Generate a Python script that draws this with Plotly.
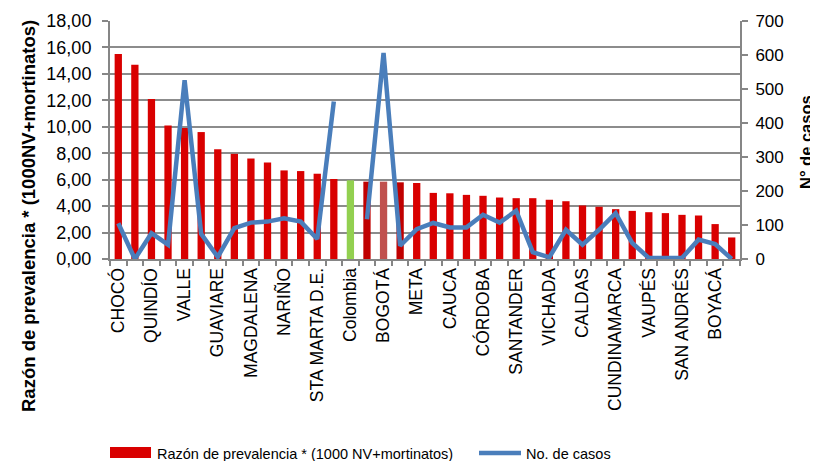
import plotly.graph_objects as go

categories = ["CHOCÓ", "AMAZONAS", "QUINDÍO", "RISARALDA", "VALLE", "CAQUETÁ",
              "GUAVIARE", "HUILA", "MAGDALENA", "TOLIMA", "NARIÑO", "SUCRE",
              "STA MARTA D.E.", "ANTIOQUIA", "Colombia", "BARRANQUILLA", "BOGOTÁ",
              "CARTAGENA", "META", "CESAR", "CAUCA", "ATLÁNTICO", "CÓRDOBA",
              "BOLÍVAR", "SANTANDER", "ARAUCA", "VICHADA", "LA GUAJIRA", "CALDAS",
              "NORTE SANTANDER", "CUNDINAMARCA", "PUTUMAYO", "VAUPÉS", "GUAINÍA",
              "SAN ANDRÉS", "CASANARE", "BOYACÁ", "BUENAVENTURA"]

rate = [15.5, 14.7, 12.1, 10.1, 9.9, 9.6, 8.3, 7.95, 7.6, 7.3, 6.7, 6.65,
        6.45, 6.05, 5.95, 5.85, 5.85, 5.8, 5.75, 5.0, 4.97, 4.85, 4.78, 4.65,
        4.6, 4.6, 4.48, 4.37, 4.05, 3.95, 3.77, 3.64, 3.54, 3.47, 3.34, 3.29,
        2.64, 1.63]

cases = [105, 0, 76, 42, 526, 74, 6, 91, 107, 110, 120, 110, 59, 463, None,
         117, 606, 39, 88, 106, 93, 93, 130, 107, 142, 20, 5, 86, 42, 86, 135,
         47, 3, 3, 3, 57, 44, 0]

labels_shown = ["CHOCÓ", "QUINDÍO", "VALLE", "GUAVIARE", "MAGDALENA", "NARIÑO",
                "STA MARTA D.E.", "Colombia", "BOGOTÁ", "META", "CAUCA", "CÓRDOBA",
                "SANTANDER", "VICHADA", "CALDAS", "CUNDINAMARCA", "VAUPÉS",
                "SAN ANDRÉS", "BOYACÁ"]

left_ticks = [0, 2, 4, 6, 8, 10, 12, 14, 16, 18]
right_ticks = [0, 100, 200, 300, 400, 500, 600, 700]

bar_name = "Razón de prevalencia * (1000 NV+mortinatos)"
line_name = "No. de casos"

BAR_RED = "#D90000"
LINE_BLUE = "#4A7EBB"
special_colors = {"Colombia": "#92D050", "BOGOTÁ": "#C0504D",
                  "BARRANQUILLA": "#C00000", "CARTAGENA": "#C00000"}
bar_colors = [special_colors.get(c, BAR_RED) for c in categories]

FONT = "Liberation Sans, Arial, sans-serif"

fig = go.Figure()
fig.add_trace(go.Bar(x=categories, y=rate, name=bar_name,
                     marker=dict(color=bar_colors, line=dict(width=0)),
                     yaxis="y", showlegend=False))
fig.add_trace(go.Scatter(x=categories, y=cases, name=line_name, mode="lines",
                         line=dict(color=LINE_BLUE, width=4.5),
                         connectgaps=False, yaxis="y2", showlegend=False))

ticktext = [c if c in labels_shown else "" for c in categories]

# page has an 8px body margin; plot area in page px: x 110..740, y 21..259
H = 238.0
W = 630.0


def py(ypix):
    return (259.0 - ypix) / H


def px(xpix):
    return (xpix - 110.0) / W


shapes = [
    dict(type="rect", xref="paper", yref="paper",
         x0=px(110), x1=px(151), y0=py(458), y1=py(447),
         fillcolor=BAR_RED, line=dict(width=0)),
    dict(type="line", xref="paper", yref="paper",
         x0=px(479), x1=px(521), y0=py(453), y1=py(453),
         line=dict(color=LINE_BLUE, width=4.5)),
]

annotations = [
    dict(text="<b>Razón de prevalencia * (1000NV+mortinatos)</b>",
         xref="paper", yref="paper", x=px(28), y=py(216), xanchor="center",
         yanchor="middle", textangle=-90, showarrow=False,
         font=dict(size=18.5)),
    dict(text="<b>N° de casos</b>", xref="paper", yref="paper",
         x=px(806), y=py(142), xanchor="center", yanchor="middle",
         textangle=-90, showarrow=False, font=dict(size=16.5)),
    dict(text=bar_name, xref="paper", yref="paper", x=px(155), y=py(454),
         xanchor="left", yanchor="middle", showarrow=False,
         font=dict(size=14.5)),
    dict(text=line_name, xref="paper", yref="paper", x=px(524), y=py(454),
         xanchor="left", yanchor="middle", showarrow=False,
         font=dict(size=14.5)),
]

fig.update_layout(
    width=810, height=453,
    margin=dict(l=102, r=78, t=13, b=202, autoexpand=False),
    paper_bgcolor="white", plot_bgcolor="white",
    font=dict(family=FONT, size=15, color="black"),
    bargap=0.56,
    showlegend=False,
    xaxis=dict(type="category", tickmode="array", tickvals=categories,
               ticktext=ticktext, tickangle=-90, ticks="outside",
               tickson="boundaries", ticklen=5, tickcolor="#868686",
               tickwidth=1.5, automargin=False,
               showline=True, linecolor="#868686", linewidth=2,
               showgrid=False, tickfont=dict(size=17.5), fixedrange=True),
    yaxis=dict(range=[0, 18], tickvals=left_ticks,
               ticktext=[f"{v:.2f}".replace(".", ",") for v in left_ticks],
               showgrid=True, gridcolor="#8C8C8C", gridwidth=1.5,
               showline=True, linecolor="#868686", linewidth=2,
               ticks="outside", ticklen=6, tickcolor="#868686", tickwidth=1.5,
               ticklabelstandoff=7,
               tickfont=dict(size=18), zeroline=False, automargin=False),
    yaxis2=dict(range=[0, 700], tickvals=right_ticks, overlaying="y",
                side="right", showgrid=False, showline=True,
                linecolor="#868686", linewidth=2, ticks="outside", ticklen=6,
                tickcolor="#868686", tickwidth=1.5, tickfont=dict(size=17),
                ticklabelstandoff=4,
                zeroline=False, automargin=False),
    shapes=shapes,
    annotations=annotations,
)

fig.write_html("out.html")
